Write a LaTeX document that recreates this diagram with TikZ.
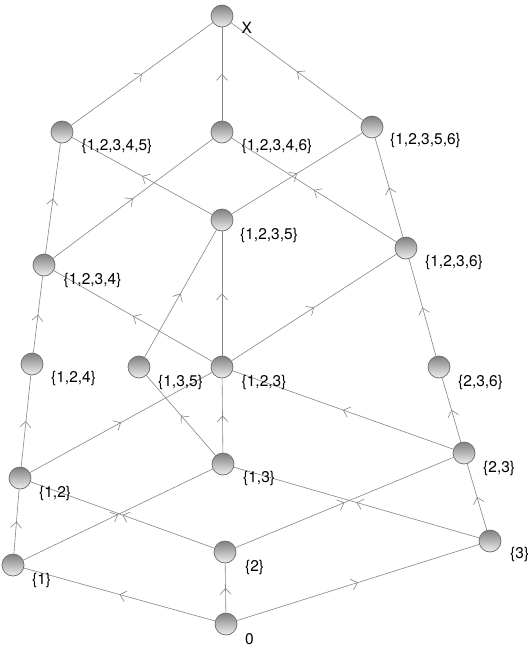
\documentclass[tikz,border=0pt]{standalone}
\usepackage{fontspec}
\setmainfont{TeX Gyre Heros}
\usetikzlibrary{arrows.meta,decorations.markings,backgrounds,calc}
\begin{document}
\begin{tikzpicture}[x=1pt,y=-1pt,
  ball/.style={circle,minimum size=22pt,inner sep=0pt,draw=black!58,line width=0.7pt,
    top color=black!50,bottom color=black!6},
  lbl/.style={anchor=west,inner sep=0pt,font=\fontsize{15.5}{18}\selectfont},
  conn/.style={draw=black!48,line width=0.6pt,postaction={decorate},
    decoration={markings,mark=at position 0.5 with {\arrow{Straight Barb[length=6pt,width=11pt,line width=0.6pt]}}}}]
\useasboundingbox (0,0) rectangle (530,648);
% nodes
\node[ball] (X)    at (222,16)  {};
\node[ball] (a5)   at (62,132)  {};
\node[ball] (a6)   at (222,132) {};
\node[ball] (a56)  at (372,127) {};
\node[ball] (b5)   at (222,220) {};
\node[ball] (b4)   at (44,265)  {};
\node[ball] (b6)   at (406,248) {};
\node[ball] (c124) at (32,364)  {};
\node[ball] (c135) at (139,367) {};
\node[ball] (c123) at (222,367) {};
\node[ball] (c236) at (439,367) {};
\node[ball] (d13)  at (223,464) {};
\node[ball] (d23)  at (464,453) {};
\node[ball] (d12)  at (20,478)  {};
\node[ball] (e2)   at (225,552) {};
\node[ball] (e3)   at (490,541) {};
\node[ball] (e1)   at (13,565)  {};
\node[ball] (z)    at (226,624) {};
% labels
\node[lbl] (lX)    at ($(X)+(19.5,12)$)    {X};
\node[lbl] (la5)   at ($(a5)+(19.5,14)$)   {\{1,2,3,4,5\}};
\node[lbl] (la6)   at ($(a6)+(19.5,14)$)   {\{1,2,3,4,6\}};
\node[lbl] (la56)  at ($(a56)+(18,13)$)    {\{1,2,3,5,6\}};
\node[lbl] (lb5)   at ($(b5)+(18,15)$)     {\{1,2,3,5\}};
\node[lbl] (lb4)   at ($(b4)+(19.5,15)$)   {\{1,2,3,4\}};
\node[lbl] (lb6)   at ($(b6)+(19,14)$)     {\{1,2,3,6\}};
\node[lbl] (lc124) at ($(c124)+(19,14)$)   {\{1,2,4\}};
\node[lbl] (lc135) at ($(c135)+(19,15)$)   {\{1,3,5\}};
\node[lbl] (lc123) at ($(c123)+(19.5,15)$) {\{1,2,3\}};
\node[lbl] (lc236) at ($(c236)+(19,15)$)   {\{2,3,6\}};
\node[lbl] (ld13)  at ($(d13)+(20,14)$)    {\{1,3\}};
\node[lbl] (ld23)  at ($(d23)+(19,15)$)    {\{2,3\}};
\node[lbl] (ld12)  at ($(d12)+(19,15)$)    {\{1,2\}};
\node[lbl] (le2)   at ($(e2)+(20,15)$)     {\{2\}};
\node[lbl] (le3)   at ($(e3)+(20,13)$)     {\{3\}};
\node[lbl] (le1)   at ($(e1)+(19,15)$)     {\{1\}};
\node[lbl] (lz)    at ($(z)+(19,15)$)      {0};
% connectors
\begin{scope}[on background layer]
\fill[white] (0,0) rectangle (530,648);
\path[conn] (z) -- (e1);
\path[conn] (z) -- (e2);
\path[conn] (z) -- (e3);
\path[conn] (e1) -- (d12);
\path[conn] (e1) -- (d13);
\path[conn] (e2) -- (d12);
\path[conn] (e2) -- (d23);
\path[conn] (e3) -- (d13);
\path[conn] (e3) -- (d23);
\path[conn] (d12) -- (c124);
\path[conn] (d12) -- (c123);
\path[conn] (d13) -- (c123);
\path[conn] (d13) -- (c135);
\path[conn] (d23) -- (c123);
\path[conn] (d23) -- (c236);
\path[conn] (c124) -- (b4);
\path[conn] (c123) -- (b4);
\path[conn] (c123) -- (b5);
\path[conn] (c123) -- (b6);
\path[conn] (c135) -- (b5);
\path[conn] (c236) -- (b6);
\path[conn] (b4) -- (a5);
\path[conn] (b4) -- (a6);
\path[conn] (b5) -- (a5);
\path[conn] (b5) -- (a56);
\path[conn] (b6) -- (a6);
\path[conn] (b6) -- (a56);
\path[conn] (a5) -- (X);
\path[conn] (a6) -- (X);
\path[conn] (a56) -- (X);
\end{scope}
\end{tikzpicture}
\end{document}
